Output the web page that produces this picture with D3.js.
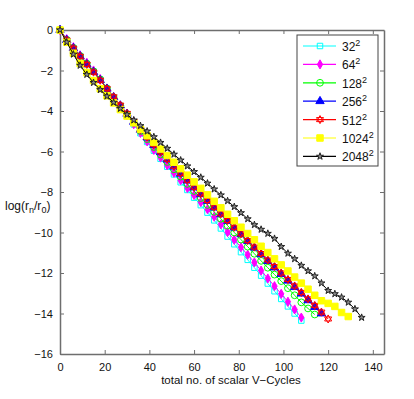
<!DOCTYPE html>
<html>
<head>
<meta charset="utf-8">
<script src="https://cdn.jsdelivr.net/npm/d3@7"></script>
<style>
  body { margin: 0; background: #fff; }
  svg { font-family: 'Liberation Sans', Arial, Helvetica, sans-serif; }
</style>
</head>
<body>
<div id="app"></div>
<script>
// V-cycles per outer iteration (x step between markers)
const cyclesPerStep = 3;

const gridLabels = ['32', '64', '128', '256', '512', '1024', '2048'];

const res32 = [0, -0.5, -0.9, -1.3, -1.68, -2.05, -2.45, -2.9, -3.35, -3.78, -4.22, -4.66, -5.1, -5.53,
  -5.96, -6.36, -6.75, -7.13, -7.52, -7.9, -8.28, -8.65, -9.02, -9.4, -9.8, -10.2, -10.58, -10.97,
  -11.35, -11.74, -12.13, -12.52, -12.9, -13.28, -13.65, -14.0, -14.35];
const res64 = [0, -0.45, -0.85, -1.25, -1.62, -2.0, -2.42, -2.9, -3.35, -3.78, -4.2, -4.65, -5.08, -5.5,
  -5.92, -6.3, -6.68, -7.05, -7.42, -7.8, -8.15, -8.5, -8.85, -9.22, -9.6, -9.98, -10.36, -10.73,
  -11.1, -11.48, -11.88, -12.27, -12.65, -13.03, -13.42, -13.8, -14.2];
const res128 = [0, -0.48, -0.88, -1.28, -1.66, -2.04, -2.44, -2.88, -3.32, -3.74, -4.16, -4.58, -4.99,
  -5.39, -5.78, -6.15, -6.52, -6.88, -7.24, -7.6, -7.95, -8.3, -8.64, -8.98, -9.32, -9.66, -10.0,
  -10.35, -10.7, -11.05, -11.4, -11.74, -12.08, -12.4, -12.75, -13.1, -13.45, -13.75, -14.05];
const res256 = [0, -0.5, -0.9, -1.3, -1.7, -2.08, -2.48, -2.9, -3.32, -3.73, -4.14, -4.54, -4.93, -5.31,
  -5.68, -6.04, -6.4, -6.75, -7.1, -7.44, -7.78, -8.11, -8.44, -8.77, -9.1, -9.43, -9.76, -10.09,
  -10.42, -10.75, -11.08, -11.41, -11.73, -12.05, -12.38, -12.7, -13.02, -13.35, -13.68, -14.0];
const res512 = [0, -0.5, -0.9, -1.3, -1.7, -2.08, -2.48, -2.9, -3.3, -3.71, -4.12, -4.52, -4.91, -5.29,
  -5.66, -6.02, -6.38, -6.73, -7.08, -7.42, -7.76, -8.09, -8.42, -8.75, -9.08, -9.41, -9.74, -10.07,
  -10.4, -10.72, -11.04, -11.36, -11.68, -12.0, -12.32, -12.64, -12.96, -13.28, -13.6, -13.93, -14.27];
const res1024 = [0, -0.6, -1.15, -1.65, -2.1, -2.5, -2.9, -3.25, -3.6, -3.93, -4.25, -4.58, -4.9, -5.22,
  -5.55, -5.88, -6.2, -6.53, -6.85, -7.17, -7.5, -7.82, -8.14, -8.46, -8.78, -9.1, -9.42, -9.74,
  -10.05, -10.36, -10.68, -10.99, -11.3, -11.6, -11.9, -12.2, -12.5, -12.8, -13.1, -13.37, -13.5,
  -13.65, -13.95, -14.15];
const res2048 = [0, -0.6, -1.2, -1.75, -2.2, -2.6, -2.95, -3.27, -3.58, -3.88, -4.17, -4.45, -4.73, -5.0,
  -5.28, -5.56, -5.85, -6.14, -6.43, -6.72, -7.0, -7.28, -7.57, -7.86, -8.15, -8.44, -8.73, -9.03,
  -9.33, -9.62, -9.85, -10.05, -10.3, -10.7, -11.03, -11.3, -11.63, -11.9, -12.15, -12.5, -12.87,
  -13.03, -13.2, -13.45, -13.78, -14.2];

const xTicks = [0, 20, 40, 60, 80, 100, 120, 140];
const yTicks = [0, -2, -4, -6, -8, -10, -12, -14, -16];

const width = 414;
const height = 399;
const margin = { left: 60, right: 30, top: 30, bottom: 45 };

// Matlab-ish hexagram marker
const symbolHexagram = {
  draw(context, size) {
    const r = Math.sqrt(size / 2.2);
    for (let k = 0; k < 2; k++) {
      for (let i = 0; i < 3; i++) {
        const a = k * Math.PI + i * 2 * Math.PI / 3 - Math.PI / 2;
        const px = r * Math.cos(a), py = r * Math.sin(a);
        if (i === 0) context.moveTo(px, py); else context.lineTo(px, py);
      }
      context.closePath();
    }
  }
};

const series = [
  { label: gridLabels[0], values: res32, color: '#00ffff', symbol: d3.symbolSquare, size: 30, fill: 'none', edge: '#00ffff' },
  { label: gridLabels[1], values: res64, color: '#ff00ff', symbol: d3.symbolDiamond, size: 24, fill: '#ff00ff', edge: '#ff00ff' },
  { label: gridLabels[2], values: res128, color: '#00ff00', symbol: d3.symbolCircle, size: 36, fill: 'none', edge: '#00ff00' },
  { label: gridLabels[3], values: res256, color: '#0000ff', symbol: d3.symbolTriangle, size: 30, fill: '#0000ff', edge: '#0000ff' },
  { label: gridLabels[4], values: res512, color: '#ff0000', symbol: symbolHexagram, size: 36, fill: 'none', edge: '#ff0000' },
  { label: gridLabels[5], values: res1024, color: '#ffff00', symbol: d3.symbolSquare, size: 42, fill: '#ffff00', edge: '#ffff00' },
  { label: gridLabels[6], values: res2048, color: '#000000', symbol: d3.symbolStar, size: 15, fill: '#8a8a8a', edge: '#222' }
];

const x = d3.scaleLinear().domain([0, 145]).range([margin.left, width - margin.right]);
const y = d3.scaleLinear().domain([-16, 0]).range([height - margin.bottom, margin.top]);

const svg = d3.select('#app').append('svg')
  .attr('width', width)
  .attr('height', height);

const fmt = d => d < 0 ? '\u2212' + Math.abs(d) : String(d);
const axisColor = '#6e6e6e';

// axes box + ticks on all sides, ticks pointing inward
const styleAxis = g => {
  g.select('.domain').attr('stroke', axisColor).attr('stroke-width', 1.5);
  g.selectAll('.tick line').attr('stroke', axisColor).attr('stroke-width', 1);
  g.selectAll('.tick text').attr('fill', '#111').style('font-size', '11px');
};

svg.append('g')
  .attr('transform', `translate(0,${y(-16)})`)
  .call(d3.axisBottom(x).tickValues(xTicks).tickFormat(fmt).tickSizeInner(-4).tickSizeOuter(0).tickPadding(9))
  .call(styleAxis);

svg.append('g')
  .attr('transform', `translate(0,${y(0)})`)
  .call(d3.axisTop(x).tickValues(xTicks).tickFormat('').tickSizeInner(-4).tickSizeOuter(0))
  .call(styleAxis);

svg.append('g')
  .attr('transform', `translate(${x(0)},0)`)
  .call(d3.axisLeft(y).tickValues(yTicks).tickFormat(fmt).tickSizeInner(-4).tickSizeOuter(0).tickPadding(7))
  .call(styleAxis);

svg.append('g')
  .attr('transform', `translate(${x(145)},0)`)
  .call(d3.axisRight(y).tickValues(yTicks).tickFormat('').tickSizeInner(-4).tickSizeOuter(0))
  .call(styleAxis);

// series
const line = d3.line()
  .x((d, i) => x(i * cyclesPerStep))
  .y(d => y(d));

const plot = svg.append('g');

series.forEach(s => {
  const g = plot.append('g');
  g.append('path')
    .datum(s.values)
    .attr('fill', 'none')
    .attr('stroke', s.color)
    .attr('stroke-width', 1)
    .attr('d', line);

  g.selectAll('path.mark')
    .data(s.values)
    .enter().append('path')
    .attr('class', 'mark')
    .attr('d', d3.symbol().type(s.symbol).size(s.size))
    .attr('transform', (d, i) => `translate(${x(i * cyclesPerStep)},${y(d)})`)
    .attr('fill', s.fill)
    .attr('stroke', s.edge)
    .attr('stroke-width', 1);
});

// legend
const legend = svg.append('g').attr('transform', 'translate(297,35)');
legend.append('rect')
  .attr('width', 81)
  .attr('height', 131)
  .attr('fill', '#fff')
  .attr('stroke', '#444')
  .attr('stroke-width', 1);

series.forEach((s, i) => {
  const ly = 11 + i * 18.4;
  const row = legend.append('g').attr('transform', `translate(0,${ly})`);
  row.append('line')
    .attr('x1', 6).attr('x2', 39)
    .attr('stroke', s.color)
    .attr('stroke-width', 1.2);
  row.append('path')
    .attr('d', d3.symbol().type(s.symbol).size(s.size))
    .attr('transform', 'translate(23,0)')
    .attr('fill', s.fill)
    .attr('stroke', s.edge);
  const t = row.append('text')
    .attr('x', 45)
    .attr('y', 5)
    .style('font-size', '12px')
    .attr('fill', '#111')
    .text(s.label);
  t.append('tspan')
    .attr('dy', -5)
    .style('font-size', '9px')
    .text('2');
});

// axis labels
svg.append('text')
  .attr('x', 231)
  .attr('y', 384)
  .attr('text-anchor', 'middle')
  .style('font-size', '11.5px')
  .attr('fill', '#111')
  .text('total no. of scalar V\u2212Cycles');

const yl = svg.append('text')
  .attr('x', 5)
  .attr('y', 210)
  .style('font-size', '12px')
  .attr('fill', '#111');
yl.append('tspan').text('log(r');
yl.append('tspan').attr('dy', 3).style('font-size', '9px').text('n');
yl.append('tspan').attr('dy', -3).text('/r');
yl.append('tspan').attr('dy', 3).style('font-size', '9px').text('0');
yl.append('tspan').attr('dy', -3).text(')');
</script>
</body>
</html>
